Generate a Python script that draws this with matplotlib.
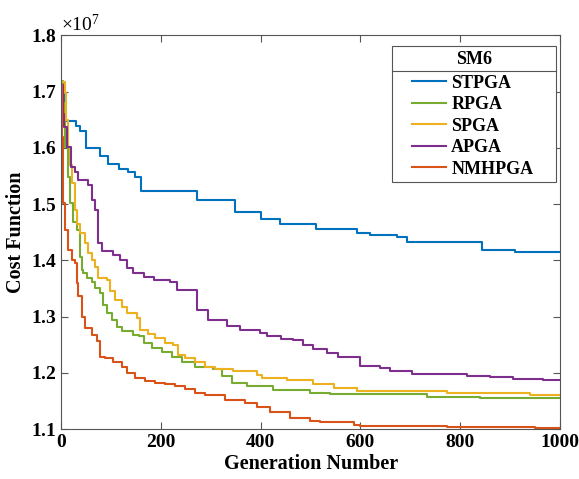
import matplotlib
matplotlib.use('Agg')
import matplotlib.pyplot as plt
from matplotlib.patches import Rectangle
from matplotlib.lines import Line2D
from matplotlib.ticker import ScalarFormatter

# Datos (valores en unidades de 1e7)
escala = 1e7

gen_stpga = [0, 6, 30, 37, 50, 78, 94, 116, 134, 148, 160, 273, 348, 400, 439, 511,
             593, 619, 673, 693, 844, 910, 1000]
val_stpga = [1.710, 1.648, 1.639, 1.630, 1.600, 1.586, 1.572, 1.562, 1.557, 1.548, 1.524,
             1.508, 1.486, 1.473, 1.465, 1.456, 1.449, 1.445, 1.442, 1.432, 1.419, 1.415, 1.415]

gen_rpga = [0, 4, 7, 13, 17, 24, 31, 38, 41, 44, 51, 61, 68, 78, 84, 91, 101, 111, 121,
            144, 155, 165, 181, 201, 221, 241, 268, 305, 322, 342, 372, 425, 499, 539,
            733, 840, 1000]
val_rpga = [1.719, 1.680, 1.602, 1.549, 1.502, 1.469, 1.454, 1.407, 1.383, 1.378, 1.369,
            1.362, 1.351, 1.342, 1.321, 1.307, 1.294, 1.282, 1.274, 1.268, 1.265, 1.253,
            1.244, 1.238, 1.229, 1.220, 1.211, 1.207, 1.194, 1.182, 1.176, 1.170, 1.165,
            1.163, 1.157, 1.155, 1.155]

gen_spga = [0, 7, 10, 14, 17, 21, 27, 32, 37, 47, 54, 61, 68, 74, 91, 98, 108, 121, 131,
            151, 158, 174, 188, 208, 224, 234, 248, 268, 288, 308, 344, 392, 402, 452,
            505, 546, 593, 773, 940, 1000]
val_spga = [1.718, 1.697, 1.650, 1.602, 1.570, 1.538, 1.490, 1.465, 1.449, 1.431, 1.413,
            1.400, 1.389, 1.369, 1.365, 1.345, 1.330, 1.318, 1.307, 1.298, 1.277, 1.270,
            1.262, 1.253, 1.250, 1.232, 1.226, 1.220, 1.211, 1.207, 1.203, 1.197, 1.191,
            1.187, 1.180, 1.173, 1.167, 1.164, 1.161, 1.161]

gen_apga = [0, 3, 6, 11, 20, 27, 34, 54, 61, 68, 73, 81, 104, 118, 131, 144, 165, 185,
            218, 231, 272, 295, 332, 358, 398, 412, 440, 465, 485, 505, 532, 555, 599,
            639, 659, 703, 813, 860, 906, 966, 1000]
val_apga = [1.712, 1.660, 1.638, 1.602, 1.567, 1.558, 1.543, 1.534, 1.507, 1.490, 1.431,
            1.416, 1.410, 1.401, 1.387, 1.378, 1.371, 1.365, 1.362, 1.348, 1.312, 1.294,
            1.283, 1.277, 1.271, 1.265, 1.260, 1.258, 1.250, 1.243, 1.236, 1.229, 1.213,
            1.209, 1.204, 1.198, 1.195, 1.192, 1.190, 1.187, 1.187]

gen_nmhpga = [0, 2, 4, 7, 14, 21, 27, 31, 34, 41, 47, 61, 71, 78, 88, 104, 121, 131, 148,
              168, 188, 208, 228, 248, 268, 288, 328, 368, 392, 418, 458, 499, 519, 586,
              599, 773, 950, 1000]
val_nmhpga = [1.712, 1.620, 1.502, 1.454, 1.419, 1.401, 1.396, 1.360, 1.336, 1.300, 1.280,
              1.268, 1.256, 1.229, 1.226, 1.220, 1.211, 1.200, 1.191, 1.185, 1.182, 1.180,
              1.176, 1.171, 1.164, 1.160, 1.152, 1.147, 1.140, 1.131, 1.120, 1.114, 1.112,
              1.108, 1.106, 1.103, 1.102, 1.102]

series = [
    ('STPGA', gen_stpga, val_stpga, '#0072BD'),
    ('RPGA', gen_rpga, val_rpga, '#77AC30'),
    ('SPGA', gen_spga, val_spga, '#EDB120'),
    ('APGA', gen_apga, val_apga, '#7E2F8E'),
    ('NMHPGA', gen_nmhpga, val_nmhpga, '#D95319'),
]

plt.rcParams['font.family'] = 'Liberation Serif'
plt.rcParams['mathtext.fontset'] = 'custom'
plt.rcParams['mathtext.rm'] = 'Liberation Serif'

fig = plt.figure(figsize=(5.79, 4.79), dpi=100)
ax = fig.add_axes([0.106, 0.104, 0.861, 0.822])

for nombre, g, v, c in series:
    ax.step(g, [x * escala for x in v], where='post', color=c, lw=1.5, label=nombre)

ax.set_xlim(0, 1000)
ax.set_ylim(1.1 * escala, 1.8 * escala)
ax.set_xticks([0, 200, 400, 600, 800, 1000])
ax.set_yticks([y * escala for y in [1.1, 1.2, 1.3, 1.4, 1.5, 1.6, 1.7, 1.8]])

fmt = ScalarFormatter(useMathText=True)
fmt.set_powerlimits((0, 0))
ax.yaxis.set_major_formatter(fmt)
ax.yaxis.get_offset_text().set_fontsize(14)

ax.tick_params(direction='in', top=True, right=True, length=5, width=0.8,
               color='#555555', labelsize=14)
for lab in ax.get_xticklabels() + ax.get_yticklabels():
    lab.set_fontweight('bold')
for s in ax.spines.values():
    s.set_color('#555555')
    s.set_linewidth(0.8)

ax.set_xlabel('Generation Number', fontsize=14.5, fontweight='bold', labelpad=2)
ax.set_ylabel('Cost Function', fontsize=14.5, fontweight='bold', labelpad=3)

# Leyenda con recuadro tipo MATLAB (título separado por una línea)
x0, x1, y0, y1, ysep = 0.663, 0.9924, 0.6284, 0.9736, 0.9094
ax.add_patch(Rectangle((x0, y0), x1 - x0, y1 - y0, transform=ax.transAxes,
                       facecolor='white', edgecolor='#555555', lw=0.8, zorder=4))
ax.add_line(Line2D([x0, x1], [ysep, ysep], transform=ax.transAxes,
                   color='#555555', lw=0.8, zorder=6))
ax.text((x0 + x1) / 2, 0.939, 'SM6', transform=ax.transAxes, ha='center', va='center',
        fontsize=13, fontweight='bold', zorder=7)
leg = ax.legend(loc='center', bbox_to_anchor=(0.8255, 0.7698), frameon=False,
                prop={'weight': 'bold', 'size': 13},
                handlelength=1.85, handletextpad=0.3, labelspacing=0.25, borderpad=0)
leg.set_zorder(7)
for h in leg.get_lines():
    h.set_linewidth(1.5)

plt.savefig('out.png', dpi=100)
